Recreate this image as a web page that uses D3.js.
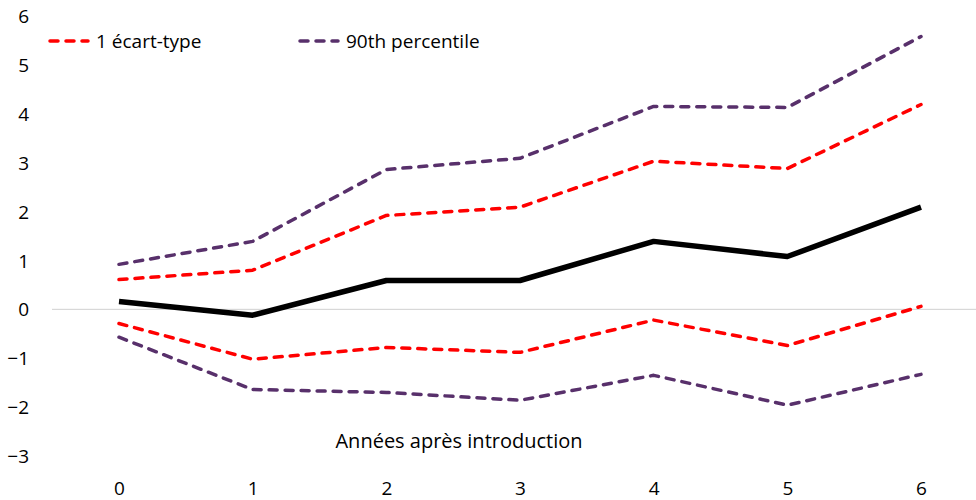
<!DOCTYPE html>
<html>
<head>
<meta charset="utf-8">
<script src="https://cdn.jsdelivr.net/npm/d3@7"></script>
<style>
  body { margin: 0; background: #fff; }
  svg text { font-family: "Open Sans", "Noto Sans", sans-serif; fill: #000; }
</style>
</head>
<body>
<div id="chart"></div>
<script>
// years after introduction
const years = [0, 1, 2, 3, 4, 5, 6];
const yTicks = [-3, -2, -1, 0, 1, 2, 3, 4, 5, 6];

// central estimate
const estimate = [0.16, -0.12, 0.59, 0.59, 1.39, 1.08, 2.09];
// 1 standard deviation band
const sdUpper = [0.61, 0.80, 1.92, 2.09, 3.03, 2.88, 4.19];
const sdLower = [-0.29, -1.02, -0.78, -0.88, -0.22, -0.74, 0.06];
// 90th percentile band
const pctUpper = [0.92, 1.39, 2.86, 3.09, 4.15, 4.13, 5.58];
const pctLower = [-0.57, -1.64, -1.70, -1.86, -1.35, -1.96, -1.33];

const legendLabels = ['1 écart-type', '90th percentile'];

const width = 976, height = 500;
const red = '#ff0000', purple = '#58306b';
const fontSize = 19;

const svg = d3.select('#chart').append('svg')
    .attr('width', width)
    .attr('height', height);

// SCALES
const x = d3.scaleLinear().domain([0, 6]).range([119, 921]);
const y = d3.scaleLinear().domain([-3, 6]).range([456, 16]);

// Y AXIS (labels only)
const yAxisG = svg.append('g')
    .attr('transform', 'translate(29,0)')
    .call(d3.axisLeft(y).tickValues(yTicks).tickSize(0).tickPadding(0).tickFormat(d3.format('d')));
yAxisG.select('.domain').remove();
yAxisG.selectAll('text').attr('font-size', fontSize).attr('dy', '0.35em');

// X AXIS (labels only)
const xAxisG = svg.append('g')
    .attr('transform', 'translate(0,478)')
    .call(d3.axisBottom(x).tickValues(years).tickSize(0).tickPadding(0).tickFormat(d3.format('d')));
xAxisG.select('.domain').remove();
xAxisG.selectAll('text').attr('font-size', fontSize).attr('dy', '0.35em').attr('y', 10);

// zero line
svg.append('line')
    .attr('x1', 52).attr('x2', width)
    .attr('y1', y(0)).attr('y2', y(0))
    .attr('stroke', '#d0d0d0').attr('stroke-width', 1);

// axis title
svg.append('text')
    .attr('x', 459).attr('y', 441)
    .attr('text-anchor', 'middle')
    .attr('dy', '0.35em')
    .attr('font-size', fontSize + 1)
    .text('Années après introduction');

const line = d3.line()
    .x((d, i) => x(years[i]))
    .y(d => y(d));

const series = [
    { values: pctUpper, color: purple, dash: true },
    { values: pctLower, color: purple, dash: true },
    { values: sdUpper, color: red, dash: true },
    { values: sdLower, color: red, dash: true },
    { values: estimate, color: '#000', dash: false }
];

svg.append('g').selectAll('path')
    .data(series)
    .join('path')
    .attr('d', d => line(d.values))
    .attr('fill', 'none')
    .attr('stroke', d => d.color)
    .attr('stroke-width', d => d.dash ? 3.5 : 5.5)
    .attr('stroke-linecap', d => d.dash ? 'round' : 'butt')
    .attr('stroke-linejoin', 'round')
    .attr('stroke-dasharray', d => d.dash ? '8,8' : null);

// LEGEND
const legend = svg.append('g');
const legendItems = [
    { label: legendLabels[0], color: red, x: 48 },
    { label: legendLabels[1], color: purple, x: 298 }
];
const li = legend.selectAll('g').data(legendItems).join('g')
    .attr('transform', d => `translate(${d.x},41)`);
li.append('line')
    .attr('x1', 2).attr('x2', 40)
    .attr('stroke', d => d.color)
    .attr('stroke-width', 3.5)
    .attr('stroke-linecap', 'round')
    .attr('stroke-dasharray', '8,8');
li.append('text')
    .attr('x', 48).attr('dy', '0.35em')
    .attr('font-size', fontSize)
    .text(d => d.label);
</script>
</body>
</html>
